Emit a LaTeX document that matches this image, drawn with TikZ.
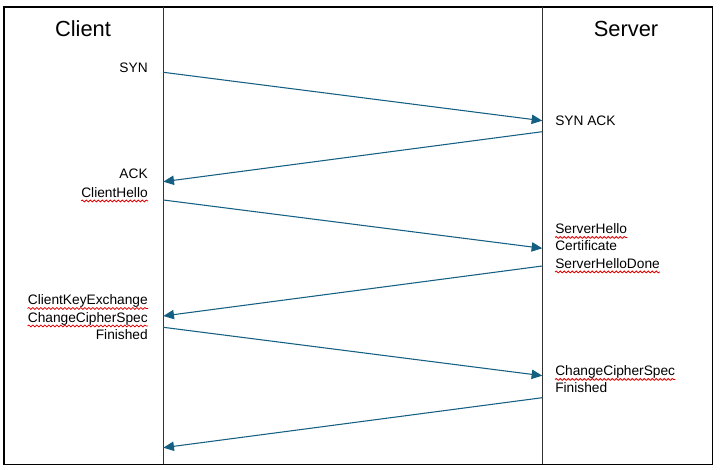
\documentclass[tikz,border=0pt]{standalone}
\usepackage{fontspec}
\setmainfont{Liberation Sans}
\usetikzlibrary{arrows.meta,decorations.pathmorphing}
\definecolor{msgblue}{HTML}{156082}
\definecolor{spellred}{HTML}{E00000}
\tikzset{
  x=0.75pt, y=-0.75pt,
  frame/.style={draw=black, line width=0.9pt},
  lifeline/.style={draw=black!80, line width=0.9pt},
  msg/.style={draw=msgblue, line width=0.8pt, -{Triangle[length=8pt,width=7pt]}},
  title/.style={font=\fontsize{16.4pt}{19pt}\selectfont, inner sep=0pt},
  lbl/.style={font=\fontsize{10.3pt}{12pt}\selectfont, inner sep=0pt},
  lblL/.style={lbl, anchor=base east},
  lblR/.style={lbl, anchor=base west},
  squig/.style={draw=spellred, line width=0.6pt, decorate, decoration={snake, amplitude=0.7pt, segment length=3pt}}
}
\newcommand{\spellmark}[1]{\draw[squig] ([yshift=-2.6pt]#1.base west) -- ([yshift=-2.6pt]#1.base east);}
\begin{document}
\begin{tikzpicture}
\useasboundingbox (0,0) rectangle (722,470);
% frame and lifelines
\draw[frame] (4,7) rectangle (712.3,464.3);
\coordinate (cTop) at (163.3,7);
\coordinate (cBot) at (163.3,464.3);
\coordinate (sTop) at (542.3,7);
\coordinate (sBot) at (542.3,464.3);
\draw[lifeline] (cTop) -- (cBot);
\draw[lifeline] (sTop) -- (sBot);
% titles
\node[title] (client) at (83,29) {Client};
\node[title] (server) at (626,29) {Server};
% client labels
\node[lblL] (syn) at (148,72.5) {SYN};
\node[lblL] (ack) at (148,178.5) {ACK};
\node[lblL] (chello) at (148,197.5) {ClientHello};
\node[lblL] (cke) at (148,305) {ClientKeyExchange};
\node[lblL] (ccs1) at (148,322.5) {ChangeCipherSpec};
\node[lblL] (fin1) at (148,339.5) {Finished};
% server labels
\node[lblR] (synack) at (555,125.5) {SYN ACK};
\node[lblR] (shello) at (555,234) {ServerHello};
\node[lblR] (cert) at (555,251) {Certificate};
\node[lblR] (shdone) at (555,268.5) {ServerHelloDone};
\node[lblR] (ccs2) at (555,376) {ChangeCipherSpec};
\node[lblR] (fin2) at (555,393) {Finished};
% spell-check marks
\spellmark{chello}
\spellmark{cke}
\spellmark{ccs1}
\spellmark{shello}
\spellmark{shdone}
\spellmark{ccs2}
% message endpoints
\coordinate (c1) at (163.3,72.3);
\coordinate (s1) at (542.3,120.7);
\coordinate (s2) at (542.3,131.7);
\coordinate (c2) at (163.3,181.7);
\coordinate (c3) at (163.3,200);
\coordinate (s3) at (542.3,248.3);
\coordinate (s4) at (542.3,266);
\coordinate (c4) at (163.3,316);
\coordinate (c5) at (163.3,327.3);
\coordinate (s5) at (542.3,375.7);
\coordinate (s6) at (542.3,397.7);
\coordinate (c6) at (163.3,447.7);
\draw[msg] (c1) -- (s1);
\draw[msg] (s2) -- (c2);
\draw[msg] (c3) -- (s3);
\draw[msg] (s4) -- (c4);
\draw[msg] (c5) -- (s5);
\draw[msg] (s6) -- (c6);
\end{tikzpicture}
\end{document}
